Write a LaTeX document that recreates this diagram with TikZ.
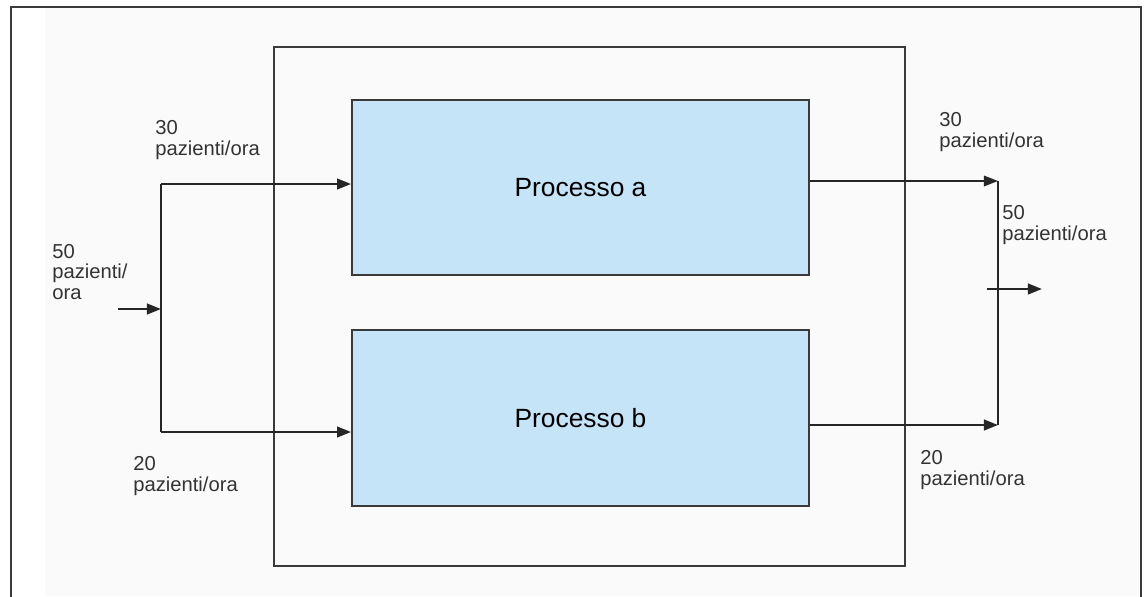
\documentclass[tikz,border=0pt]{standalone}
\usepackage{fontspec}
\setmainfont{Liberation Sans}
\usetikzlibrary{arrows.meta}
\definecolor{procfill}{HTML}{C6E4F7}
\definecolor{linegray}{HTML}{3A3A3A}
\definecolor{paper}{HTML}{FAFAFA}
\begin{document}
\begin{tikzpicture}[x=0.02cm,y=-0.02cm,
  frame/.style={draw=linegray,line width=1.1pt},
  procbox/.style={draw=linegray,line width=1.1pt,fill=procfill,
    minimum width=9.14cm,minimum height=3.5cm,inner sep=0pt,
    font=\fontsize{15pt}{17pt}\selectfont},
  flow/.style={draw=black!85,line width=1.4pt,
    -{Triangle[length=8pt,width=6pt]}},
  plain/.style={draw=black!85,line width=1.4pt},
  rate/.style={anchor=west,inner sep=0pt,align=left,text=black!80,
    font=\fontsize{11.5pt}{11.5pt}\selectfont}]
  \useasboundingbox (0,0) rectangle (1147,596);
  % page background and open outer frame
  \fill[white] (0,0) rectangle (1147,596);
  \fill[paper] (45,8) rectangle (1140,596);
  \draw[frame] (11,600) -- (11,7) -- (1141,7) -- (1141,600);

  % system boundary and the two processes
  \node[frame,minimum width=12.62cm,minimum height=10.38cm] (sys) at (589.5,306.5) {};
  \node[procbox] (pa) at (580.5,187.5) {Processo a};
  \node[procbox,minimum height=3.52cm] (pb) at (580.5,418) {Processo b};

  % incoming flow and split
  \coordinate (in) at (118,309);
  \coordinate (split) at (161,309);
  \coordinate (sa) at (161,184);
  \coordinate (sb) at (161,432);
  \draw[flow] (in) -- (split);
  \draw[plain] (sa) -- (sb);
  \draw[flow] (sa) -- (pa.west |- sa);
  \draw[flow] (sb) -- (pb.west |- sb);

  % outgoing flows and merge
  \coordinate (oa) at (998,181);
  \coordinate (ob) at (998,425);
  \coordinate (mstart) at (987,289);
  \coordinate (out) at (1042,289);
  \draw[flow,line width=0.9pt] (pa.east |- oa) -- (oa);
  \draw[flow] (pb.east |- ob) -- (ob);
  \draw[plain] (oa) -- (ob);
  \draw[flow] (mstart) -- (out);

  % flow rates
  \node[rate] (r50in) at (52,272) {50\\pazienti/\\ora};
  \node[rate] (r30in) at (155,140) {30\\pazienti/ora};
  \node[rate] (r20in) at (133,476) {20\\pazienti/ora};
  \node[rate] (r30out) at (939,132) {30\\pazienti/ora};
  \node[rate] (r50out) at (1002,225) {50\\pazienti/ora};
  \node[rate] (r20out) at (920,470) {20\\pazienti/ora};
\end{tikzpicture}
\end{document}
